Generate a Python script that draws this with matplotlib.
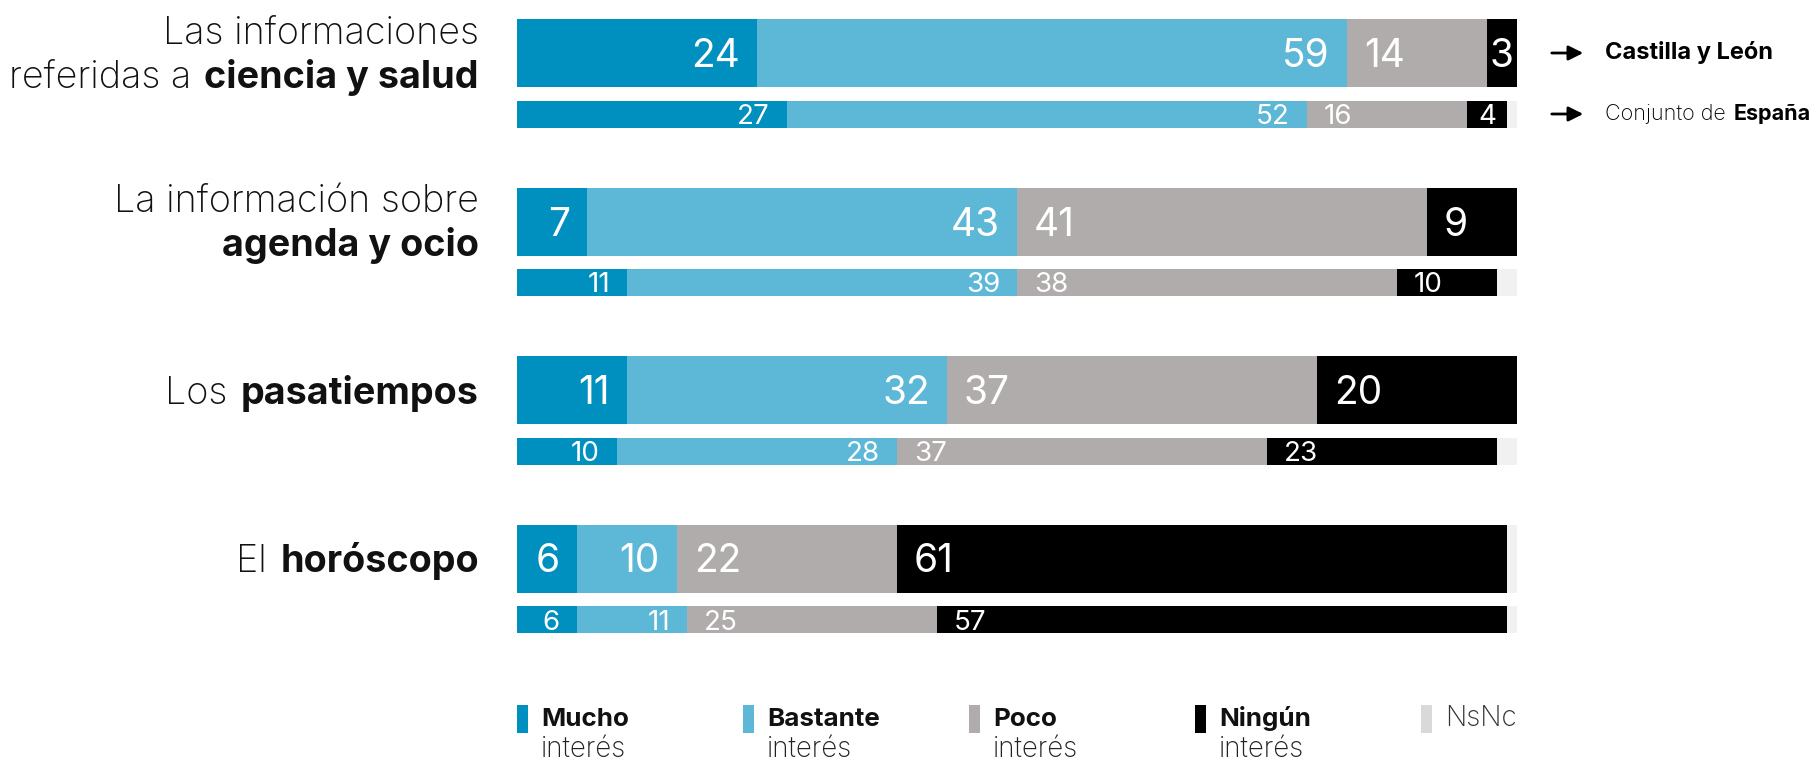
import numpy as np
import matplotlib
matplotlib.use("Agg")
import matplotlib.pyplot as plt

plt.rcParams['font.family'] = ['Inter', 'DejaVu Sans']

# ---------- Data ----------

# Castilla y León (big bars) and Conjunto de España (small bars), in %
mucho_cyl = [24, 7, 11, 6]
bastante_cyl = [59, 43, 32, 10]
poco_cyl = [14, 41, 37, 22]
ningun_cyl = [3, 9, 20, 61]
nsnc_cyl = [0, 0, 0, 1]

mucho_esp = [27, 11, 10, 6]
bastante_esp = [52, 39, 28, 11]
poco_esp = [16, 38, 37, 25]
ningun_esp = [4, 10, 23, 57]
nsnc_esp = [1, 2, 2, 1]

# category labels: list of lines, each line a list of (text, bold)
cat_labels = [
    [[("Las informaciones", False)], [("referidas a", False), ("ciencia y salud", True)]],
    [[("La información sobre", False)], [("agenda y ocio", True)]],
    [[("Los", False), ("pasatiempos", True)]],
    [[("El", False), ("horóscopo", True)]],
]

legend_top = ["Mucho", "Bastante", "Poco", "Ningún", "NsNc"]
legend_bottom = ["interés", "interés", "interés", "interés", ""]

colors = ["#0090c0", "#5db7d6", "#afacab", "#000000", "#f1f1f1"]
legend_colors = ["#0090c0", "#5db7d6", "#afacab", "#000000", "#d9d9d9"]

# ---------- Layout ----------

W, H = 1816, 760
fig = plt.figure(figsize=(W / 100, H / 100), dpi=100)
ax = fig.add_axes([0, 0, 1, 1])
# 10 px per percent, 0 % at x = 517 px; y in pixels from the top
ax.set_xlim(-51.7, (W - 517) / 10)
ax.set_ylim(H, 0)
ax.axis('off')

n = len(mucho_cyl)
big_y = 53 + 168.5 * np.arange(n)
small_y = big_y + 61
big_h, small_h = 68, 27
pad = 1.7


def draw_stack(series, y, h, fs, small):
    left = np.zeros(n)
    for k, vals in enumerate(series):
        vals = np.array(vals, dtype=float)
        ax.barh(y, vals, left=left, height=h, color=colors[k], linewidth=0)
        if k < 4:
            for i in range(n):
                v = vals[i]
                if v <= 0:
                    continue
                ty = y[i] + (10 if small else 14)
                if v < 5:
                    x, ha = left[i] + v / 2, 'center'
                elif k < 2:
                    x, ha = left[i] + v - pad, 'right'
                else:
                    x, ha = left[i] + pad, 'left'
                ax.text(x, ty, f"{int(v)}", color='white', fontsize=fs,
                        ha=ha, va='baseline')
        left = left + vals


draw_stack([mucho_cyl, bastante_cyl, poco_cyl, ningun_cyl, nsnc_cyl], big_y, big_h, 28, False)
draw_stack([mucho_esp, bastante_esp, poco_esp, ningun_esp, nsnc_esp], small_y, small_h, 20, True)

fig.canvas.draw()
renderer = fig.canvas.get_renderer()


def rich_line(x, y, parts, fs, ha='right', color='#111111'):
    """draw (text, bold) parts on one baseline, right or left aligned"""
    space = 0.05 * fs
    cur = x
    seq = reversed(parts) if ha == 'right' else parts
    for txt, bold in seq:
        t = ax.text(cur, y, txt, fontsize=fs, ha=ha, va='baseline', color=color,
                    fontweight='bold' if bold else 'light')
        bb = t.get_window_extent(renderer).transformed(ax.transData.inverted())
        cur = bb.x0 - space if ha == 'right' else bb.x1 + space


# category labels
for i, lines in enumerate(cat_labels):
    if len(lines) == 2:
        rich_line(-3.8, big_y[i] - 9, lines[0], 27.2)
        rich_line(-3.8, big_y[i] + 35, lines[1], 27.2)
    else:
        rich_line(-3.8, big_y[i] + 14, lines[0], 27.2)

# right side annotations
for y, parts, fs in [(big_y[0], [("Castilla y León", True)], 17),
                     (small_y[0], [("Conjunto de", False), ("España", True)], 15.5)]:
    ax.annotate('', xy=(106.9, y), xytext=(103.2, y),
                arrowprops=dict(arrowstyle='-|>', color='black', lw=2, mutation_scale=22))
    rich_line(108.8, y + 0.36 * fs, parts, fs, ha='left', color='black')

# legend
leg_x = 22.6 * np.arange(len(legend_top))
ax.bar(leg_x, 28, bottom=705, width=1.1, align='edge', color=legend_colors, linewidth=0)
for i in range(len(legend_top)):
    nsnc = legend_top[i] == "NsNc"
    ax.text(leg_x[i] + 2.4, 726, legend_top[i], fontsize=20 if nsnc else 18.7, ha='left',
            va='baseline', fontweight='light' if nsnc else 'bold',
            color='#333333' if nsnc else '#111111')
    if legend_bottom[i]:
        ax.text(leg_x[i] + 2.4, 757, legend_bottom[i], fontsize=20, ha='left',
                va='baseline', fontweight='light', color='#222222')

fig.savefig("out.png", dpi=100)
